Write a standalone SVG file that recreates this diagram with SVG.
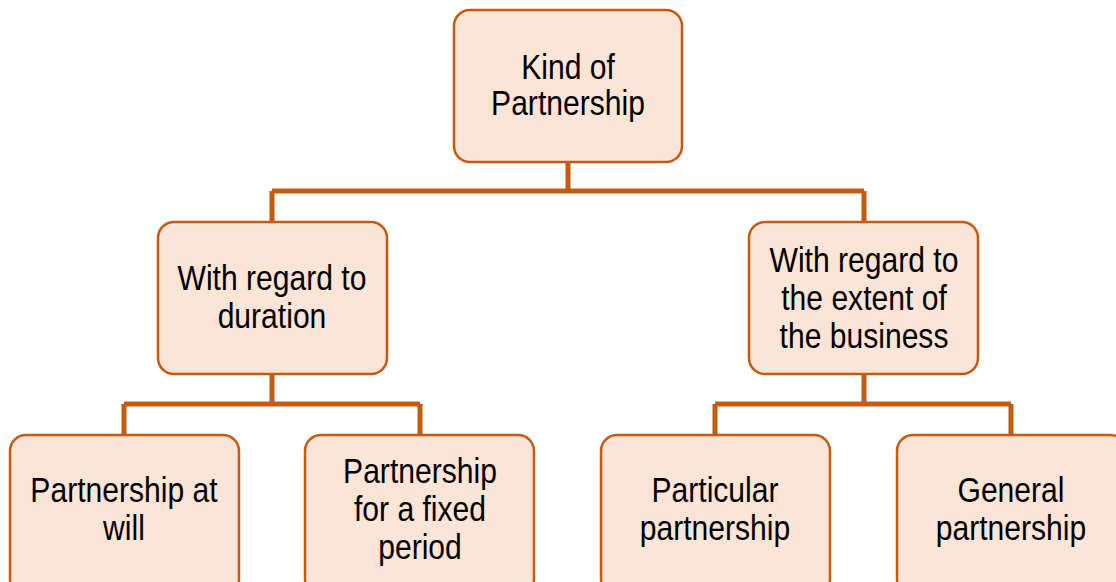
<svg xmlns="http://www.w3.org/2000/svg" width="1116" height="582" viewBox="0 0 1116 582">
<style>
.box{fill:#FBE5D6;stroke:#C55A11;stroke-width:2.5}
.t{font-family:"Liberation Sans",Arial,sans-serif;font-size:35px;fill:#000;text-anchor:middle}
.c{fill:none;stroke:#C55A11;stroke-width:5}
</style>
<rect width="1116" height="582" fill="#fff"/>
<g id="connectors">
<path class="c" d="M568 162V191M272 191H864M272 191V222M864 191V222"/>
<path class="c" d="M272 374V404M124 404H420M124 404V435M420 404V435"/>
<path class="c" d="M864 374V404M715 404H1011M715 404V435M1011 404V435"/>
</g>
<g id="root">
<rect class="box" x="454" y="10" width="228" height="152" rx="16"/>
<text class="t" transform="translate(568,0) scale(0.86,1)"><tspan x="0" y="79">Kind of</tspan><tspan x="0" y="115">Partnership</tspan></text>
</g>
<g id="duration">
<rect class="box" x="158" y="222" width="229" height="152" rx="16"/>
<text class="t" transform="translate(272,0) scale(0.86,1)"><tspan x="0" y="290">With regard to</tspan><tspan x="0" y="328">duration</tspan></text>
</g>
<g id="extent">
<rect class="box" x="749" y="222" width="229" height="152" rx="16"/>
<text class="t" transform="translate(864,0) scale(0.86,1)"><tspan x="0" y="272">With regard to</tspan><tspan x="0" y="310">the extent of</tspan><tspan x="0" y="348">the business</tspan></text>
</g>
<g id="atwill">
<rect class="box" x="10" y="435" width="229" height="160" rx="16"/>
<text class="t" transform="translate(124,0) scale(0.86,1)"><tspan x="0" y="502">Partnership at</tspan><tspan x="0" y="540">will</tspan></text>
</g>
<g id="fixed">
<rect class="box" x="305" y="435" width="229" height="160" rx="16"/>
<text class="t" transform="translate(420,0) scale(0.86,1)"><tspan x="0" y="483">Partnership</tspan><tspan x="0" y="521">for a fixed</tspan><tspan x="0" y="559">period</tspan></text>
</g>
<g id="particular">
<rect class="box" x="601" y="435" width="229" height="160" rx="16"/>
<text class="t" transform="translate(715,0) scale(0.86,1)"><tspan x="0" y="502">Particular</tspan><tspan x="0" y="540">partnership</tspan></text>
</g>
<g id="general">
<rect class="box" x="897" y="435" width="229" height="160" rx="16"/>
<text class="t" transform="translate(1011,0) scale(0.86,1)"><tspan x="0" y="502">General</tspan><tspan x="0" y="540">partnership</tspan></text>
</g>
</svg>
